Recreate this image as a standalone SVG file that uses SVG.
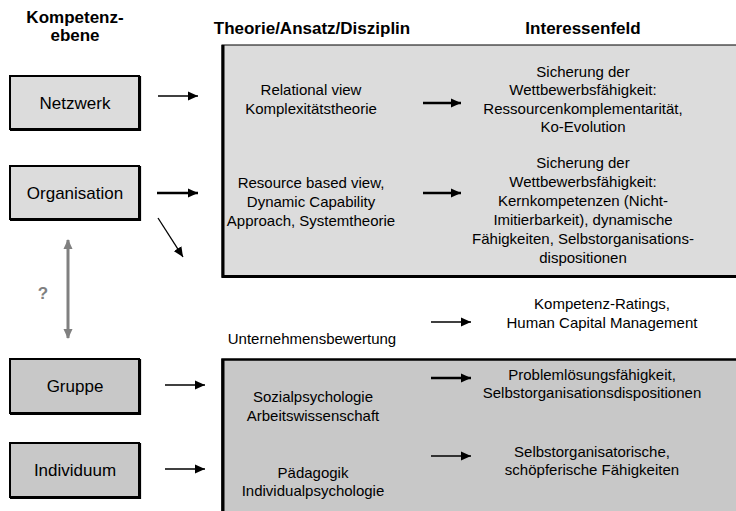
<svg xmlns="http://www.w3.org/2000/svg" width="736" height="511" viewBox="0 0 736 511">
<style>
text{font-family:"Liberation Sans",Arial,sans-serif;fill:#000;text-anchor:middle}
.h{font-size:17px;font-weight:bold}
.n{font-size:17px}
.t{font-size:15px}
.nodeA{fill:#dcdcdc;stroke:#000;stroke-width:2}
.nodeB{fill:#c8c8c8;stroke:#000;stroke-width:2}
.sh{fill:none;stroke:#000;stroke-width:1.2}
.thin{stroke:#000;stroke-width:1.3;fill:none;marker-end:url(#ah)}
.thick{stroke:#000;stroke-width:2.6;fill:none;marker-end:url(#ah)}
</style>
<defs>
<marker id="ah" markerUnits="userSpaceOnUse" markerWidth="11" markerHeight="10" refX="10" refY="5" orient="auto">
<path d="M0,0.5 L10,5 L0,9.5 Z" fill="#000"/>
</marker>
<marker id="ag" markerUnits="userSpaceOnUse" markerWidth="11" markerHeight="10" refX="9" refY="5" orient="auto-start-reverse">
<path d="M0,0.5 L10,5 L0,9.5 Z" fill="#808080"/>
</marker>
</defs>
<rect width="736" height="511" fill="#fff"/>

<g id="headers">
<text class="h" x="75" y="23">Kompetenz-</text>
<text class="h" x="75" y="41">ebene</text>
<text class="h" x="312" y="34">Theorie/Ansatz/Disziplin</text>
<text class="h" x="583" y="34">Interessenfeld</text>
</g>

<g id="upperBox">
<rect x="222" y="45" width="520" height="232" fill="#dcdcdc" stroke="#000" stroke-width="1"/>
<line x1="223" y1="45" x2="223" y2="278" stroke="#000" stroke-width="3"/>
<line x1="222" y1="276.5" x2="736" y2="276.5" stroke="#000" stroke-width="3"/>
<text class="t" x="311" y="95">Relational view</text>
<text class="t" x="311" y="114">Komplexitätstheorie</text>
<text class="t" x="583" y="77">Sicherung der</text>
<text class="t" x="583" y="95">Wettbewerbsfähigkeit:</text>
<text class="t" x="583" y="114">Ressourcenkomplementarität,</text>
<text class="t" x="583" y="132">Ko-Evolution</text>
<text class="t" x="311" y="188">Resource based view,</text>
<text class="t" x="311" y="207">Dynamic Capability</text>
<text class="t" x="311" y="226">Approach, Systemtheorie</text>
<text class="t" x="583" y="168">Sicherung der</text>
<text class="t" x="583" y="187">Wettbewerbsfähigkeit:</text>
<text class="t" x="583" y="206">Kernkompetenzen (Nicht-</text>
<text class="t" x="583" y="225">Imitierbarkeit), dynamische</text>
<text class="t" x="583" y="244">Fähigkeiten, Selbstorganisations-</text>
<text class="t" x="583" y="263">dispositionen</text>
</g>

<g id="middle">
<text class="t" x="312" y="344">Unternehmensbewertung</text>
<text class="t" x="602" y="309">Kompetenz-Ratings,</text>
<text class="t" x="602" y="328">Human Capital Management</text>
</g>

<g id="lowerBox">
<rect x="222.5" y="359.5" width="520" height="160" fill="#c8c8c8" stroke="#000" stroke-width="2.5"/>
<line x1="223" y1="359" x2="223" y2="511" stroke="#000" stroke-width="3"/>
<text class="t" x="313" y="402">Sozialpsychologie</text>
<text class="t" x="313" y="421">Arbeitswissenschaft</text>
<text class="t" x="313" y="478">Pädagogik</text>
<text class="t" x="313" y="496">Individualpsychologie</text>
<text class="t" x="592" y="380">Problemlösungsfähigkeit,</text>
<text class="t" x="592" y="398">Selbstorganisationsdispositionen</text>
<text class="t" x="592" y="457">Selbstorganisatorische,</text>
<text class="t" x="592" y="475">schöpferische Fähigkeiten</text>
</g>

<g id="netzwerk">
<rect class="nodeA" x="10" y="76" width="129" height="53"/>
<path class="sh" d="M140.5,76 V130.5 H10"/>
<text class="n" x="75" y="109">Netzwerk</text>
</g>
<g id="organisation">
<rect class="nodeA" x="10" y="166" width="129" height="53"/>
<path class="sh" d="M140.5,166 V220.5 H10"/>
<text class="n" x="75" y="199">Organisation</text>
</g>
<g id="gruppe">
<rect class="nodeB" x="10" y="359" width="129" height="54"/>
<path class="sh" d="M140.5,359 V414.5 H10"/>
<text class="n" x="75" y="392">Gruppe</text>
</g>
<g id="individuum">
<rect class="nodeB" x="10" y="443" width="129" height="54"/>
<path class="sh" d="M140.5,443 V498.5 H10"/>
<text class="n" x="75" y="476">Individuum</text>
</g>

<g id="question">
<text x="43" y="299" style="font-size:17px;font-weight:bold;fill:#808080">?</text>
</g>

<g id="connectors">
<line class="thin" x1="158" y1="96" x2="198" y2="96"/>
<line class="thick" x1="157" y1="193" x2="198" y2="193"/>
<line class="thin" x1="158" y1="218" x2="183" y2="257"/>
<line class="thin" x1="165" y1="385" x2="205" y2="385"/>
<line class="thin" x1="165" y1="469" x2="205" y2="469"/>
<line class="thick" x1="423" y1="103" x2="461" y2="103"/>
<line class="thick" x1="423" y1="193" x2="461" y2="193"/>
<line class="thin" x1="431" y1="322" x2="471" y2="322"/>
<line class="thick" x1="431" y1="378" x2="471" y2="378"/>
<line class="thin" x1="431" y1="456" x2="471" y2="456"/>
<line x1="68" y1="240" x2="68" y2="338" stroke="#808080" stroke-width="3" marker-start="url(#ag)" marker-end="url(#ag)"/>
</g>
</svg>
